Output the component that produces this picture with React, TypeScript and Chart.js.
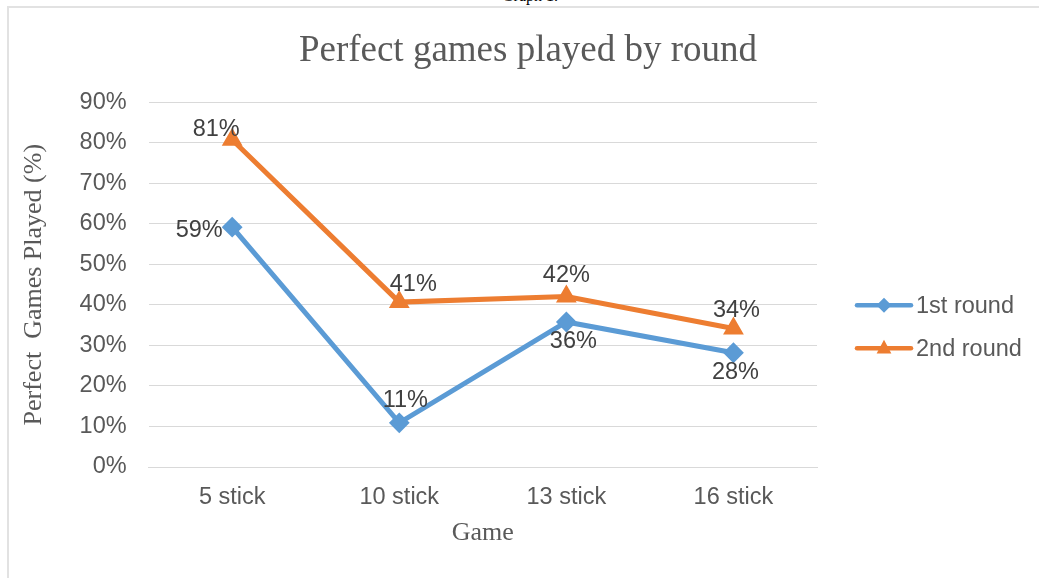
import React, { useEffect, useRef } from 'react';
import { Chart, registerables } from 'chart.js';

Chart.register(...registerables);

// ---- data ----
const categories = ['5 stick', '10 stick', '13 stick', '16 stick'];
const seriesNames = ['1st round', '2nd round'];
const firstRound = [59.2, 10.9, 35.8, 28.2];
const secondRound = [80.8, 40.7, 42.1, 34.2];
const yTickMin = 0;
const yTickMax = 90;
const yTickStep = 10;

// ---- styles ----
const SANS = '"Liberation Sans", Arial, sans-serif';
const SERIF = '"Liberation Serif", "Times New Roman", serif';
const BLUE = '#5B9BD5';
const ORANGE = '#ED7D31';
const GRID = '#d9d9d9';
const TEXT = '#595959';
const LABEL = '#404040';
const TICK_SIZE = 23.5;

// label offsets (px) relative to each point, per series
const labelOffsets = [
  [[-33, 3], [6, -22], [7, 20], [2, 20]],
  [[-16, -10], [14, -18], [0, -21], [3, -18]],
];

const dataLabelPlugin = {
  id: 'dataLabels',
  afterDatasetsDraw(chart: any) {
    const ctx = chart.ctx;
    ctx.save();
    ctx.font = `${TICK_SIZE}px ${SANS}`;
    ctx.fillStyle = LABEL;
    ctx.textAlign = 'center';
    ctx.textBaseline = 'middle';
    chart.data.datasets.forEach((ds: any, di: number) => {
      const meta = chart.getDatasetMeta(di);
      meta.data.forEach((pt: any, i: number) => {
        const [dx, dy] = labelOffsets[di][i];
        ctx.fillText(Math.round(ds.data[i]) + '%', pt.x + dx, pt.y + dy);
      });
    });
    ctx.restore();
  },
};

const legendPlugin = {
  id: 'customLegend',
  afterDraw(chart: any) {
    const { ctx, chartArea } = chart;
    const mid = (chartArea.top + chartArea.bottom) / 2;
    ctx.save();
    chart.data.datasets.forEach((ds: any, i: number) => {
      const y = mid + 20.5 + i * 43;
      const x0 = chartArea.right + 40;
      const xm = x0 + 27;
      ctx.strokeStyle = ds.borderColor;
      ctx.fillStyle = ds.borderColor;
      ctx.lineWidth = 4.5;
      ctx.lineCap = 'round';
      ctx.beginPath();
      ctx.moveTo(x0, y);
      ctx.lineTo(x0 + 54, y);
      ctx.stroke();
      ctx.beginPath();
      if (ds.pointStyle === 'rectRot') {
        const r = 7.5;
        ctx.moveTo(xm, y - r);
        ctx.lineTo(xm + r, y);
        ctx.lineTo(xm, y + r);
        ctx.lineTo(xm - r, y);
      } else {
        const r = 8.5;
        ctx.moveTo(xm, y - r);
        ctx.lineTo(xm + r * 0.866, y + r * 0.5 + 1);
        ctx.lineTo(xm - r * 0.866, y + r * 0.5 + 1);
      }
      ctx.closePath();
      ctx.fill();
      ctx.font = `${TICK_SIZE}px ${SANS}`;
      ctx.fillStyle = TEXT;
      ctx.textAlign = 'left';
      ctx.textBaseline = 'middle';
      ctx.fillText(ds.label, x0 + 59, y + 1);
    });
    ctx.restore();
  },
};

export default function App() {
  const canvasRef = useRef<HTMLCanvasElement | null>(null);

  useEffect(() => {
    if (!canvasRef.current) return;
    const chart = new Chart(canvasRef.current, {
      type: 'line',
      data: {
        labels: categories,
        datasets: [
          {
            label: seriesNames[0],
            data: firstRound,
            borderColor: BLUE,
            backgroundColor: BLUE,
            borderWidth: 5,
            pointStyle: 'rectRot',
            pointRadius: 9,
            pointBorderWidth: 2,
            pointBackgroundColor: BLUE,
            pointBorderColor: BLUE,
            tension: 0,
          },
          {
            label: seriesNames[1],
            data: secondRound,
            borderColor: ORANGE,
            backgroundColor: ORANGE,
            borderWidth: 5,
            pointStyle: 'triangle',
            pointRadius: 10,
            pointBorderWidth: 2,
            pointBackgroundColor: ORANGE,
            pointBorderColor: ORANGE,
            tension: 0,
          },
        ],
      },
      options: {
        responsive: false,
        animation: false,
        layout: { padding: { top: 0, left: 8, right: 0, bottom: 0 } },
        plugins: {
          legend: { display: false },
          tooltip: { enabled: false },
          title: {
            display: true,
            text: 'Perfect games played by round',
            color: TEXT,
            font: { family: SERIF, size: 37, weight: 'normal' },
            padding: { top: 29, bottom: 29 },
          },
        },
        scales: {
          x: {
            offset: true,
            grid: { display: false, drawTicks: false },
            border: { color: GRID, width: 1 },
            ticks: { color: TEXT, font: { family: SANS, size: TICK_SIZE }, padding: 16 },
            title: {
              display: true,
              text: 'Game',
              color: TEXT,
              font: { family: SERIF, size: 26 },
              padding: { top: -9.8, bottom: 29.4 },
            },
          },
          y: {
            min: yTickMin,
            max: yTickMax,
            ticks: {
              stepSize: yTickStep,
              color: TEXT,
              font: { family: SANS, size: TICK_SIZE },
              padding: 22,
              callback: (v: any) => v + '%',
            },
            grid: { color: GRID, lineWidth: 1, drawTicks: false },
            border: { display: false },
            title: {
              display: true,
              text: 'Perfect  Games Played (%)',
              color: TEXT,
              font: { family: SERIF, size: 26 },
              padding: { top: 11, bottom: 7.4 },
            },
          },
          legendSpace: {
            type: 'linear',
            position: 'right',
            display: true,
            grid: { display: false, drawTicks: false },
            border: { display: false },
            ticks: { display: false },
            afterFit: (s: any) => {
              s.width = 231;
            },
          },
        },
      },
      plugins: [dataLabelPlugin, legendPlugin],
    } as any);
    return () => chart.destroy();
  }, []);

  return (
    <div
      style={{
        position: 'fixed',
        left: 0,
        top: 0,
        width: 1039,
        height: 578,
        overflow: 'hidden',
        background: '#ffffff',
      }}
    >
      <div
        style={{
          position: 'absolute',
          left: 0,
          top: -12,
          width: 1060,
          textAlign: 'center',
          fontFamily: SERIF,
          fontSize: 16,
          lineHeight: '16px',
          color: '#000',
        }}
      >
        Graph 1.
      </div>
      <div
        style={{
          position: 'absolute',
          left: 7,
          top: 6,
          width: 1100,
          height: 700,
          borderTop: '2px solid #e2e2e2',
          borderLeft: '2px solid #e2e2e2',
        }}
      />
      <canvas
        ref={canvasRef}
        width={1048}
        height={578}
        style={{ position: 'absolute', left: 0, top: 0, display: 'block' }}
      />
    </div>
  );
}
